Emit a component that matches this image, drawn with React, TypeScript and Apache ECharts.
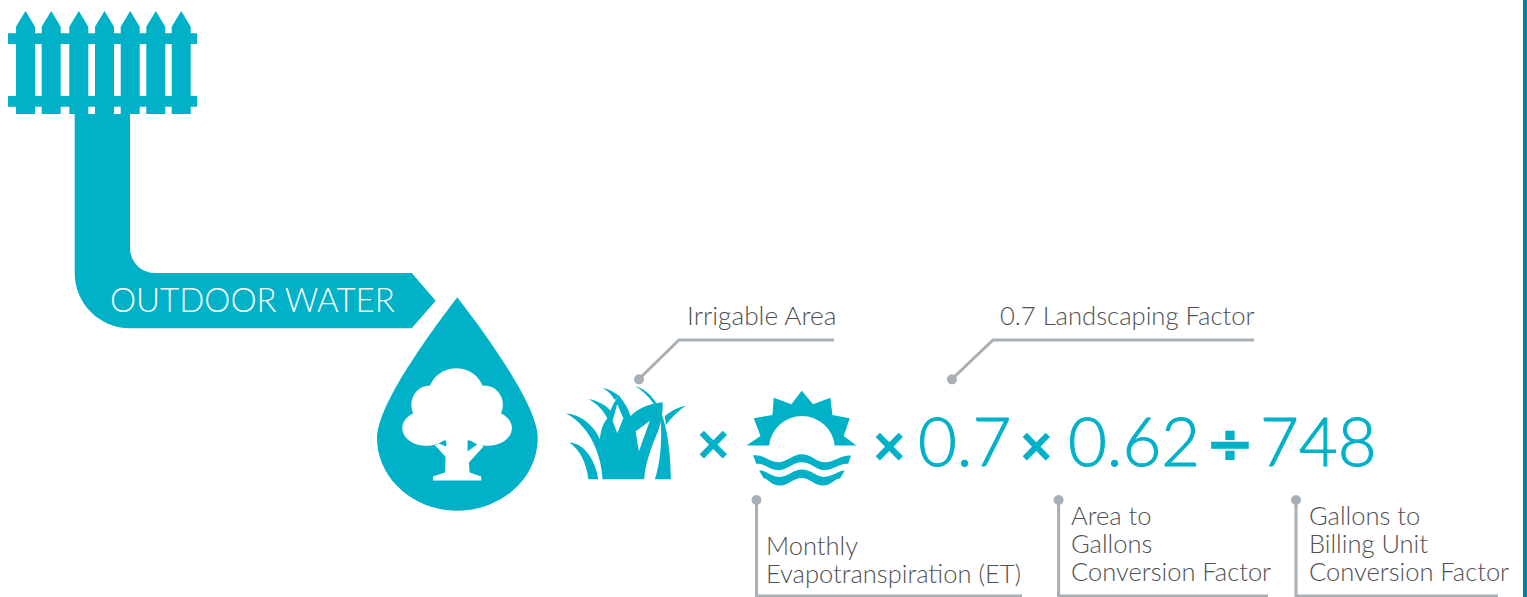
import React, { useEffect, useRef } from "react";
import * as echarts from "echarts";

const heading = "OUTDOOR WATER";
const topLabels = ["Irrigable Area", "0.7 Landscaping Factor"];
const etLabel = ["Monthly", "Evapotranspiration (ET)"];
const areaLabel = ["Area to", "Gallons", "Conversion Factor"];
const billingLabel = ["Gallons to", "Billing Unit", "Conversion Factor"];
const numbers = ["0.7", "0.62", "748"];
const operators = ["×", "×", "×", "÷"];

const TEAL = "#00B1C8";
const GREY = "#A8B0B6";
const TEXT = "#4F5052";
const LABEL_FONT = '300 25.5px Lato, "Open Sans", sans-serif';

const shapes: Record<string, string> = {
  fence:
    "M16,33.3 L16,26.7 L25.5,11 L35,26.7 L35,33.3 L41.7,33.3 L41.7,26.7 L51.2,11 L60.7,26.7 L60.7,33.3 L69.3,33.3 L69.3,26.7 L78.8,11 L88.3,26.7 L88.3,33.3 L95,33.3 L95,26.7 L104.5,11 L114,26.7 L114,33.3 L120.7,33.3 L120.7,26.7 L130.2,11 L139.7,26.7 L139.7,33.3 L146.3,33.3 L146.3,26.7 L155.8,11 L165.3,26.7 L165.3,33.3 L171.7,33.3 L171.7,26.7 L181.2,11 L190.7,26.7 L190.7,33.3 L197,33.3 L197,44 L190.7,44 L190.7,96 L197,96 L197,106.7 L190.7,106.7 L190.7,114 L171.7,114 L171.7,106.7 L165.3,106.7 L165.3,114 L146.3,114 L146.3,106.7 L139.7,106.7 L139.7,114 L120.7,114 L120.7,106.7 L114,106.7 L114,114 L95,114 L95,106.7 L88.3,106.7 L88.3,114 L69.3,114 L69.3,106.7 L60.7,106.7 L60.7,114 L41.7,114 L41.7,106.7 L35,106.7 L35,114 L16,114 L16,106.7 L8,106.7 L8,96 L16,96 L16,44 L8,44 L8,33.3 Z" +
    " M35,44 L35,96 L41.7,96 L41.7,44 Z M60.7,44 L60.7,96 L69.3,96 L69.3,44 Z M88.3,44 L88.3,96 L95,96 L95,44 Z M114,44 L114,96 L120.7,96 L120.7,44 Z M139.7,44 L139.7,96 L146.3,96 L146.3,44 Z M165.3,44 L165.3,96 L171.7,96 L171.7,44 Z",
  pipe: "M74.7,114 L130,114 L130,248 C130,262 141,273 155,273 L411.7,273 L435.7,300.7 L411.7,328.3 L130,328.3 C99.5,328.3 74.7,303.5 74.7,273 Z",
  drop: "M457.3,297.3 C430,333 377,405 377,438 C377,478 413,510.7 457.3,510.7 C501.7,510.7 537.7,478 537.7,438 C537.7,405 484.6,333 457.3,297.3 Z",
  trunk:
    "M1120,752 L1120,740 L1156,728 L1158,682 L1125,645 L1140,642 L1160,650 L1160,625 L1224,625 L1224,665 L1258,640 L1272,650 L1228,698 L1230,728 L1265,740 L1265,752 Z",
  crown: "M1130,520 L1255,520 L1255,632 L1130,632 Z",
  bladeA: "M28,188 C70,190 105,235 115,298 L85,298 C80,250 60,210 28,188 Z",
  bladeCross: "M127,23 C150,28 165,38 178,48 L165,60 C155,45 145,33 127,23 Z",
  bladeF: "M225,17 C295,40 330,120 333,298 L285,298 C300,250 306,200 303,130 C300,90 270,45 225,17 Z",
  bladeG: "M378,77 C350,83 330,95 315,108 L318,135 C335,112 355,92 378,77 Z",
  grassBody:
    "M128,298 C125,240 100,145 18,100 C65,105 100,135 120,178 C122,150 130,130 142,115 C130,90 110,70 85,57 C115,62 140,78 152,92 C160,65 180,40 202,23 C190,32 182,40 178,48 C192,65 205,85 212,108 C235,85 265,72 308,67 C310,90 305,130 292,160 C270,210 255,260 253,298 Z",
  hole1: "M172,72 L190,115 L172,160 L158,122 Z",
  hole2: "M270,122 L227,155 L237,215 C245,190 258,155 270,122 Z",
  sun: "M590,257 L632,228 L612,175 L668,165 L672,113 L725,133 L756,92 L790,133 L842,113 L848,165 L900,175 L882,228 L920,257 L855,257 A99,99 0 0 0 658,257 Z",
  wave1:
    "M610,287 C640,282 660,307 685,307 C710,307 730,283 756,283 C785,283 800,307 825,307 C855,307 875,285 904,287 L895,312 C870,310 850,331 825,331 C800,331 785,307 756,307 C730,307 710,331 685,331 C660,331 645,310 620,312 Z",
  wave2:
    "M628,332 C650,330 665,351 690,351 C715,351 730,329 756,329 C785,329 800,351 822,351 C850,351 865,332 885,332 L871,356 C855,356 845,377 820,377 C795,377 780,354 756,354 C730,354 715,377 690,377 C665,377 655,356 641,354 Z",
};
Object.keys(shapes).forEach((k) => {
  echarts.graphic.registerShape(k, echarts.graphic.extendPath(shapes[k], {}));
});

const solid = (type: string, fill = TEAL) => ({ type, style: { fill } });

const label = (text: string, x: number, y: number, scaleX = 1) => ({
  type: "text",
  x,
  y,
  scaleX,
  style: { text, fill: TEXT, font: LABEL_FONT, textAlign: "left", textVerticalAlign: "bottom" },
});

const num = (text: string, x: number) => ({
  type: "text",
  x,
  y: 440,
  style: {
    text,
    fill: TEAL,
    stroke: TEAL,
    lineWidth: 1,
    font: "300 67px Lato, sans-serif",
    textAlign: "left",
    textVerticalAlign: "middle",
  },
});

const op = (text: string, x: number, y: number, size: number) => ({
  type: "text",
  x,
  y,
  style: {
    text,
    fill: TEAL,
    stroke: TEAL,
    lineWidth: 2.5,
    lineJoin: "round",
    font: `${size}px "DejaVu Sans", sans-serif`,
    textAlign: "center",
    textVerticalAlign: "middle",
  },
});

const dot = (cx: number, cy: number) => ({ type: "circle", shape: { cx, cy, r: 5 }, style: { fill: GREY } });
const leader = (points: number[][]) => ({
  type: "polyline",
  shape: { points },
  style: { stroke: GREY, lineWidth: 3, fill: "none" },
});

function buildGraphic() {
  const ell = (cx: number, cy: number, rx: number, ry: number) => ({
    type: "ellipse",
    shape: { cx, cy, rx, ry },
    style: { fill: "#fff" },
  });
  return [
    { type: "rect", shape: { x: 1523, y: 0, width: 4, height: 597 }, style: { fill: "#0082A0" } },
    solid("fence"),
    solid("pipe"),
    solid("drop"),
    {
      type: "text",
      x: 110,
      y: 299,
      style: { text: heading, fill: "#fff", font: "300 33px Lato, sans-serif", textAlign: "left", textVerticalAlign: "middle" },
    },
    {
      type: "group",
      x: 60,
      y: 230,
      scaleX: 1 / 3,
      scaleY: 1 / 3,
      children: [
        ell(1190, 498, 85, 83),
        ell(1110, 525, 55, 58),
        ell(1275, 525, 55, 58),
        ell(1100, 595, 72, 53),
        ell(1285, 595, 72, 53),
        solid("crown", "#fff"),
        solid("trunk", "#fff"),
      ],
    },
    {
      type: "group",
      x: 560,
      y: 380,
      scaleX: 1 / 3,
      scaleY: 1 / 3,
      children: [
        solid("bladeA"),
        solid("grassBody"),
        solid("bladeF"),
        solid("bladeCross"),
        solid("bladeG"),
        solid("hole1", "#fff"),
        solid("hole2", "#fff"),
      ],
    },
    {
      type: "group",
      x: 550,
      y: 360,
      scaleX: 1 / 3,
      scaleY: 1 / 3,
      children: [solid("sun"), solid("wave1"), solid("wave2")],
    },
    op(operators[0], 713, 443, 42),
    op(operators[1], 889, 445, 42),
    op(operators[2], 1036, 445, 42),
    op(operators[3], 1230, 442, 56),
    num(numbers[0], 918),
    num(numbers[1], 1068),
    num(numbers[2], 1260),
    leader([[639, 379], [679, 340], [834, 340]]),
    dot(639, 379.3),
    leader([[952, 379], [993, 340], [1254, 340]]),
    dot(952, 379.3),
    leader([[756.5, 500], [756.5, 596], [1022, 596]]),
    dot(756.5, 500),
    leader([[1058.6, 500], [1058.6, 596], [1268, 596]]),
    dot(1058.6, 500),
    leader([[1296, 500], [1296, 596], [1498, 596]]),
    dot(1296, 500),
    label(topLabels[0], 687, 328, 1.03),
    label(topLabels[1], 1000, 328, 1.005),
    label(etLabel[0], 766, 558),
    label(etLabel[1], 766, 586),
    label(areaLabel[0], 1071, 528),
    label(areaLabel[1], 1071, 556),
    label(areaLabel[2], 1071, 584),
    label(billingLabel[0], 1309, 528),
    label(billingLabel[1], 1309, 556),
    label(billingLabel[2], 1309, 584),
  ];
}

export default function App() {
  const ref = useRef<HTMLDivElement>(null);
  useEffect(() => {
    document.body.style.margin = "0";
    const chart = echarts.init(ref.current!, undefined, { renderer: "svg" });
    chart.setOption({ animation: false, graphic: buildGraphic() } as any);
    return () => chart.dispose();
  }, []);
  return <div ref={ref} style={{ position: "absolute", left: 0, top: 0, width: 1527, height: 597, background: "#fff" }} />;
}
